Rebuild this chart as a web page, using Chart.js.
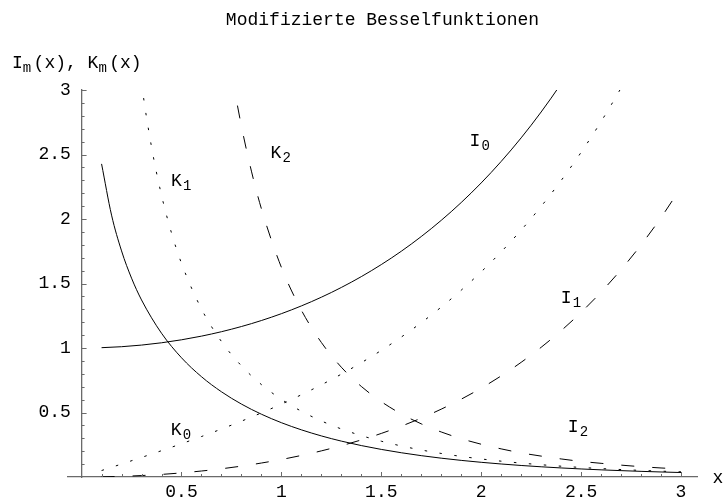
<!DOCTYPE html>
<html>
<head>
<meta charset="utf-8">
<script src="https://cdn.jsdelivr.net/npm/chart.js@4.4.1/dist/chart.umd.min.js"></script>
<style>
  html, body { margin: 0; padding: 0; background: #fff; }
  #wrap { width: 725px; height: 501px; }
</style>
</head>
<body>
<div id="wrap"><canvas id="bessel" width="725" height="501"></canvas></div>
<script>
// --- data -------------------------------------------------------------
const xI0 = [0.1,0.2,0.3,0.4,0.5,0.6,0.7,0.8,0.9,1.0,1.1,1.2,1.3,1.4,1.5,1.6,1.7,1.8,1.9,2.0,2.1,2.2,2.3,2.4,2.5];
const yI0 = [1.0025,1.0100,1.0226,1.0404,1.0635,1.0920,1.1263,1.1665,1.2130,1.2661,1.3262,1.3937,1.4693,1.5534,1.6467,1.7500,1.8640,1.9896,2.1277,2.2796,2.4463,2.6291,2.8296,3.0493,3.2898];

const xI1 = [0.1,0.2,0.3,0.4,0.5,0.6,0.7,0.8,0.9,1.0,1.1,1.2,1.3,1.4,1.5,1.6,1.7,1.8,1.9,2.0,2.1,2.2,2.3,2.4,2.5,2.6,2.7,2.8];
const yI1 = [0.0501,0.1005,0.1517,0.2040,0.2579,0.3137,0.3719,0.4329,0.4971,0.5652,0.6375,0.7147,0.7973,0.8861,0.9817,1.0848,1.1963,1.3172,1.4482,1.5906,1.7455,1.9141,2.0978,2.2981,2.5167,2.7554,3.0161,3.3011];

const xI2 = [0.1,0.2,0.3,0.4,0.5,0.6,0.7,0.8,0.9,1.0,1.1,1.2,1.3,1.4,1.5,1.6,1.7,1.8,1.9,2.0,2.1,2.2,2.3,2.4,2.5,2.6,2.7,2.8,2.9,3.0];
const yI2 = [0.0013,0.0050,0.0113,0.0201,0.0319,0.0464,0.0638,0.0844,0.1083,0.1357,0.1671,0.2025,0.2427,0.2875,0.3378,0.3940,0.4566,0.5260,0.6033,0.6889,0.7839,0.8890,1.0054,1.1342,1.2765,1.4338,1.6075,1.7994,2.0112,2.2452];

const xK0 = [0.1,0.15,0.2,0.25,0.3,0.4,0.5,0.6,0.7,0.8,0.9,1.0,1.1,1.2,1.3,1.4,1.5,1.6,1.7,1.8,1.9,2.0,2.1,2.2,2.3,2.4,2.5,2.6,2.7,2.8,2.9,3.0];
const yK0 = [2.4271,2.0300,1.7527,1.5415,1.3725,1.1145,0.9244,0.7775,0.6605,0.5653,0.4867,0.4210,0.3656,0.3185,0.2782,0.2437,0.2138,0.1880,0.1655,0.1459,0.1288,0.1139,0.1008,0.0893,0.0791,0.0702,0.0623,0.0554,0.0493,0.0438,0.0390,0.0347];

const xK1 = [0.25,0.3,0.35,0.4,0.45,0.5,0.6,0.7,0.8,0.9,1.0,1.1,1.2,1.3,1.4,1.5,1.6,1.7,1.8,1.9,2.0,2.1,2.2,2.3,2.4,2.5,2.6,2.7,2.8,2.9,3.0];
const yK1 = [3.747,3.056,2.559,2.1844,1.892,1.6564,1.3028,1.0503,0.8618,0.7165,0.6019,0.5098,0.4346,0.3725,0.3208,0.2774,0.2406,0.2094,0.1826,0.1597,0.1399,0.1227,0.1079,0.0950,0.0837,0.0739,0.0653,0.0577,0.0511,0.0453,0.0402];

const xK2 = [0.65,0.7,0.75,0.8,0.85,0.9,1.0,1.1,1.2,1.3,1.4,1.5,1.6,1.7,1.8,1.9,2.0,2.1,2.2,2.3,2.4,2.5,2.6,2.7,2.8,2.9,3.0];
const yK2 = [4.308,3.661,3.143,2.720,2.371,2.079,1.625,1.293,1.043,0.851,0.702,0.584,0.489,0.412,0.349,0.297,0.254,0.218,0.187,0.162,0.140,0.121,0.106,0.092,0.080,0.070,0.062];

// tick labels
const xTickValues = [0.5, 1, 1.5, 2, 2.5, 3];
const yTickValues = [0.5, 1, 1.5, 2, 2.5, 3];

// curve names, placed in data units
const labelMain = ['I', 'I', 'I', 'K', 'K', 'K'];
const labelSub  = ['0', '1', '2', '0', '1', '2'];
const labelX    = [1.969, 2.425, 2.46, 0.473, 0.475, 0.973];
const labelY    = [2.602, 1.385, 0.385, 0.362, 2.296, 2.508];

const titleText = 'Modifizierte Besselfunktionen';

// --- styling ----------------------------------------------------------
const MONO = '"Liberation Mono", "Courier New", Courier, monospace';
const AXIS = '#6a6a6a';
const SOLID = [];
const DOTS = [2.5, 12.5];
const DASH = [13, 18];

function pts(xs, ys) { return xs.map((x, i) => ({ x, y: ys[i] })); }

function series(xs, ys, dash) {
  return {
    data: pts(xs, ys),
    borderColor: '#000',
    borderWidth: 1,
    borderDash: dash,
    pointRadius: 0,
    fill: false,
    cubicInterpolationMode: 'monotone'
  };
}

// text with a subscript, x/y = centre of the main glyph
function subText(ctx, main, sub, x, y) {
  ctx.textBaseline = 'middle';
  ctx.textAlign = 'center';
  ctx.font = '18px ' + MONO;
  ctx.fillText(main, x, y);
  ctx.font = '14px ' + MONO;
  ctx.fillText(sub, x + 10.8, y + 5);
}

const decor = {
  id: 'decor',
  afterDraw(chart) {
    const { ctx, chartArea, scales: { x, y } } = chart;
    ctx.save();

    // inward tick marks, minor every 0.1
    ctx.strokeStyle = AXIS;
    ctx.lineWidth = 1;
    const x0 = x.getPixelForValue(0);
    const y0 = y.getPixelForValue(0);
    ctx.beginPath();
    for (let k = 1; k <= 30; k++) {
      const v = k / 10;
      const len = (k % 5 === 0) ? 5 : 3;
      const px = Math.round(x.getPixelForValue(v)) + 0.5;
      ctx.moveTo(px, y0); ctx.lineTo(px, y0 - len);
      const py = Math.round(y.getPixelForValue(v)) + 0.5;
      ctx.moveTo(x0, py); ctx.lineTo(x0 + len, py);
    }
    ctx.stroke();

    ctx.fillStyle = '#000';

    // title
    ctx.font = '18px ' + MONO;
    ctx.textAlign = 'center';
    ctx.textBaseline = 'middle';
    ctx.fillText(titleText, (chartArea.left + chartArea.right) / 2, 20);

    // axis labels
    let cx = 12;
    const ly = 63.5;
    const parts = [['I', 0], ['m', 1], ['(x), ', 0], ['K', 0], ['m', 1], ['(x)', 0]];
    ctx.textAlign = 'left';
    for (const [t, isSub] of parts) {
      ctx.font = (isSub ? '14px ' : '18px ') + MONO;
      ctx.fillText(t, cx, isSub ? ly + 5 : ly);
      cx += isSub ? 10.8 : ctx.measureText(t).width;
    }
    ctx.font = '18px ' + MONO;
    ctx.textAlign = 'center';
    ctx.fillText('x', chartArea.right + 21, y0 + 1);

    // curve names
    for (let i = 0; i < labelMain.length; i++) {
      subText(ctx, labelMain[i], labelSub[i],
        x.getPixelForValue(labelX[i]), y.getPixelForValue(labelY[i]));
    }
    ctx.restore();
  }
};

new Chart(document.getElementById('bessel'), {
  type: 'line',
  data: {
    datasets: [
      series(xI0, yI0, SOLID),
      series(xI1, yI1, DOTS),
      series(xI2, yI2, DASH),
      series(xK0, yK0, SOLID),
      series(xK1, yK1, DOTS),
      series(xK2, yK2, DASH)
    ]
  },
  options: {
    responsive: false,
    animation: false,
    devicePixelRatio: 1,
    layout: { padding: { left: 68, right: 28, top: 90, bottom: 24 } },
    plugins: { legend: { display: false }, tooltip: { enabled: false } },
    scales: {
      x: {
        type: 'linear',
        position: { y: 0 },
        min: -0.068,
        max: 3.08,
        afterBuildTicks: s => { s.ticks = xTickValues.map(v => ({ value: v })); },
        grid: { display: false, drawTicks: false },
        border: { display: true, color: AXIS, width: 1.3 },
        ticks: {
          font: { family: MONO, size: 18 }, color: '#000', padding: 4, maxRotation: 0,
          callback: v => String(v)
        }
      },
      y: {
        type: 'linear',
        position: { x: 0 },
        min: 0,
        max: 3,
        afterBuildTicks: s => { s.ticks = yTickValues.map(v => ({ value: v })); },
        grid: { display: false, drawTicks: false },
        border: { display: true, color: AXIS, width: 1.3 },
        // object-positioned axis ignores padding, a trailing blank keeps the gap
        ticks: {
          font: { family: MONO, size: 18 }, color: '#000',
          callback: v => String(v) + ' '
        }
      }
    }
  },
  plugins: [decor]
});
</script>
</body>
</html>
